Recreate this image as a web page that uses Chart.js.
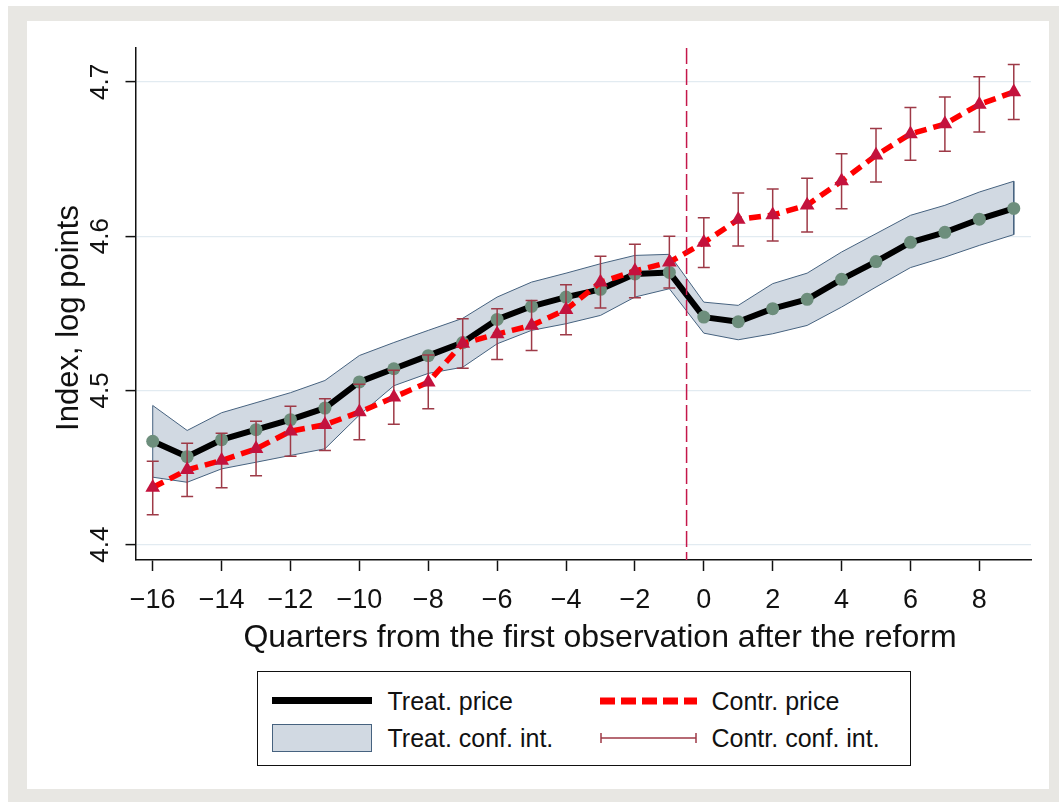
<!DOCTYPE html>
<html>
<head>
<meta charset="utf-8">
<script src="https://cdn.jsdelivr.net/npm/chart.js@4.4.1/dist/chart.umd.min.js"></script>
<style>
  html, body { margin: 0; padding: 0; background: #fff; width: 1059px; height: 802px; overflow: hidden;
               font-family: 'Liberation Sans', Arial, Helvetica, sans-serif; }
  #frame { position: absolute; left: 8px; top: 6px; width: 1051px; height: 796px; background: #e8e7e3; }
  #panel { position: absolute; left: 27px; top: 21px; width: 1022px; height: 768px; background: #fff; }
  #plot { position: absolute; left: 0; top: 0; }
  #legend { position: absolute; left: 230px; top: 650px; width: 654px; height: 95px;
            border: 1.5px solid #111; box-sizing: border-box; }
  #legend .sym { position: absolute; }
  #legend .txt { position: absolute; font-size: 25px; line-height: 30px; color: #111; white-space: nowrap; }
</style>
</head>
<body>
<div id="frame"></div>
<div id="panel">
  <canvas id="plot" width="1022" height="640"></canvas>
  <div id="legend">
    <div class="sym" style="left:13.5px; top:25px; width:100px; height:7px; background:#000;"></div>
    <span class="txt" style="left:129.5px; top:13.5px;">Treat. price</span>
    <div class="sym" style="left:13.5px; top:51.5px; width:100px; height:28px; background:#d1d9e2; border:1.5px solid #46627f; box-sizing:border-box;"></div>
    <span class="txt" style="left:129.5px; top:50.5px;">Treat. conf. int.</span>
    <svg class="sym" style="left:341.5px; top:18.5px;" width="100" height="20">
      <line x1="0" y1="10" x2="97" y2="10" stroke="#ff0000" stroke-width="7" stroke-dasharray="15 6"/>
    </svg>
    <span class="txt" style="left:453.5px; top:13.5px;">Contr. price</span>
    <svg class="sym" style="left:341.5px; top:55.5px;" width="100" height="20">
      <path d="M1 10 H96 M1 5 V15 M96 5 V15" stroke="#9e3a47" stroke-width="1.5" fill="none"/>
    </svg>
    <span class="txt" style="left:453.5px; top:50.5px;">Contr. conf. int.</span>
  </div>
</div>
<script>
// Quarters relative to the first observation after the reform
const quarters = [-16, -15, -14, -13, -12, -11, -10, -9, -8, -7, -6, -5, -4, -3, -2, -1,
                  0, 1, 2, 3, 4, 5, 6, 7, 8, 9];

// Treated group: price index and confidence band (log points)
const treatPrice = [4.467, 4.457, 4.468, 4.4745, 4.481, 4.4885, 4.5055, 4.514, 4.5225, 4.531,
                    4.546, 4.5545, 4.5605, 4.5655, 4.5755, 4.5765,
                    4.5475, 4.5445, 4.553, 4.559, 4.572, 4.5835, 4.596, 4.6025, 4.611, 4.618];
const treatLow   = [4.4437, 4.4404, 4.4491, 4.4534, 4.4578, 4.4621, 4.484, 4.503, 4.511, 4.515,
                    4.5302, 4.5389, 4.5432, 4.5486, 4.5605, 4.5659,
                    4.5371, 4.5328, 4.5367, 4.5421, 4.554, 4.567, 4.5796, 4.5864, 4.594, 4.601];
const treatHigh  = [4.4902, 4.474, 4.4855, 4.492, 4.4985, 4.5064, 4.5226, 4.531, 4.5389, 4.5467,
                    4.5605, 4.5702, 4.576, 4.5821, 4.5875, 4.5882,
                    4.5572, 4.5551, 4.5692, 4.576, 4.5897, 4.6016, 4.6135, 4.62, 4.6286, 4.6356];

// Control group: price index and confidence interval (log points)
const ctrlPrice = [4.437, 4.4485, 4.4545, 4.4621, 4.4735, 4.4777, 4.4859, 4.4955, 4.5053, 4.5304,
                   4.5365, 4.5421, 4.5523, 4.5701, 4.5774, 4.5831,
                   4.5958, 4.6108, 4.6137, 4.6201, 4.6357, 4.6524, 4.6663, 4.6727, 4.6854, 4.6935];
const ctrlLow   = [4.4193, 4.4311, 4.4368, 4.4446, 4.4573, 4.461, 4.4679, 4.478, 4.488, 4.5144,
                   4.52, 4.5259, 4.5361, 4.5534, 4.5601, 4.5663,
                   4.5796, 4.5936, 4.5968, 4.6027, 4.6178, 4.6351, 4.6492, 4.655, 4.6676, 4.6756];
const ctrlHigh  = [4.454, 4.4657, 4.4722, 4.48, 4.4897, 4.4945, 4.504, 4.513, 4.523, 4.5465,
                   4.553, 4.5583, 4.5685, 4.5869, 4.5947, 4.5999,
                   4.612, 4.628, 4.6306, 4.6375, 4.6535, 4.6698, 4.6834, 4.6903, 4.7033, 4.7113];

// Axis ticks and the reform marker
const xTickValues = [-16, -14, -12, -10, -8, -6, -4, -2, 0, 2, 4, 6, 8];
const yTickValues = [4.4, 4.5, 4.6, 4.7];
const reformAt = -0.5;

const xTitle = 'Quarters from the first observation after the reform';
const yTitle = 'Index, log points';

const FONT = "'Liberation Sans', Arial, Helvetica, sans-serif";
Chart.defaults.font.family = FONT;

// Closed outline of the treated confidence band: upper edge forward, lower edge back
const bandOutline = quarters.map((q, i) => ({ x: q, y: treatHigh[i] }))
  .concat(quarters.slice().reverse().map((q, k) => {
    const i = quarters.length - 1 - k;
    return { x: q, y: treatLow[i] };
  }));
bandOutline.push({ x: quarters[0], y: treatHigh[0] });

const fmtTick = v => (v < 0 ? '\u2212' + Math.abs(v) : String(v));

const decor = {
  id: 'decor',
  beforeDatasetDraw(chart, args) {
    if (args.index !== 2) return;
    // Control-group confidence intervals (capped spikes)
    const { ctx, scales: { x, y } } = chart;
    ctx.save();
    ctx.strokeStyle = '#9e3a47';
    ctx.lineWidth = 1.5;
    quarters.forEach((q, i) => {
      const px = x.getPixelForValue(q);
      const top = y.getPixelForValue(ctrlHigh[i]);
      const bot = y.getPixelForValue(ctrlLow[i]);
      ctx.beginPath();
      ctx.moveTo(px, top); ctx.lineTo(px, bot);
      ctx.moveTo(px - 6, top); ctx.lineTo(px + 6, top);
      ctx.moveTo(px - 6, bot); ctx.lineTo(px + 6, bot);
      ctx.stroke();
    });
    ctx.restore();
  },
  afterDatasetsDraw(chart) {
    // Vertical dashed line at the reform date
    const { ctx, chartArea, scales: { x } } = chart;
    const px = x.getPixelForValue(reformAt);
    ctx.save();
    ctx.strokeStyle = '#c4174a';
    ctx.lineWidth = 1.5;
    ctx.setLineDash([16, 5]);
    ctx.beginPath();
    ctx.moveTo(px, chartArea.top);
    ctx.lineTo(px, chartArea.bottom);
    ctx.stroke();
    ctx.restore();
  },
  afterDraw(chart) {
    const { ctx, chartArea, scales: { y } } = chart;
    ctx.save();
    ctx.fillStyle = '#111';
    // Vertical tick labels on the y axis
    ctx.font = '26px ' + FONT;
    ctx.textAlign = 'center';
    ctx.textBaseline = 'alphabetic';
    yTickValues.forEach(v => {
      ctx.save();
      ctx.translate(chartArea.left - 28, y.getPixelForValue(v));
      ctx.rotate(-Math.PI / 2);
      ctx.fillText(v.toFixed(1), 0, 0);
      ctx.restore();
    });
    // Axis titles
    ctx.font = '31px ' + FONT;
    ctx.save();
    ctx.translate(51, 297);
    ctx.rotate(-Math.PI / 2);
    ctx.fillText(yTitle, 0, 0);
    ctx.restore();
    ctx.font = '32px ' + FONT;
    ctx.fillText(xTitle, 573, 626);
    ctx.restore();
  }
};

new Chart(document.getElementById('plot'), {
  type: 'line',
  data: {
    datasets: [
      {
        label: 'Treat. conf. int.',
        data: bandOutline,
        order: 3,
        borderColor: '#46627f',
        borderWidth: 1,
        backgroundColor: '#d1d9e2',
        fill: 'shape',
        pointRadius: 0,
        tension: 0
      },
      {
        label: 'Treat. price',
        data: quarters.map((q, i) => ({ x: q, y: treatPrice[i] })),
        order: 2,
        borderColor: '#000',
        borderWidth: 6,
        fill: false,
        pointRadius: 6.5,
        pointBackgroundColor: '#6d8e7c',
        pointBorderWidth: 0,
        tension: 0
      },
      {
        label: 'Contr. price',
        data: quarters.map((q, i) => ({ x: q, y: ctrlPrice[i] })),
        order: 1,
        borderColor: '#ff0000',
        borderWidth: 5.5,
        borderDash: [12, 7],
        fill: false,
        pointStyle: 'triangle',
        pointRadius: 8.5,
        pointBackgroundColor: '#c4123d',
        pointBorderWidth: 0,
        tension: 0
      }
    ]
  },
  options: {
    responsive: false,
    animation: false,
    devicePixelRatio: 1,
    parsing: true,
    layout: { padding: { left: 0, right: 18, top: 27, bottom: 0 } },
    plugins: { legend: { display: false }, tooltip: { enabled: false } },
    elements: { line: { borderCapStyle: 'butt', borderJoinStyle: 'round' } },
    scales: {
      x: {
        type: 'linear',
        min: -16.5,
        max: 9.5,
        afterBuildTicks: s => { s.ticks = xTickValues.map(v => ({ value: v })); },
        afterFit: s => { s.height = 101; },
        ticks: {
          autoSkip: false, maxRotation: 0, minRotation: 0,
          padding: 13, color: '#111', font: { size: 27 },
          callback: v => fmtTick(v)
        },
        grid: { drawOnChartArea: false, drawTicks: true, tickLength: 11, tickColor: '#111', tickWidth: 1.5 },
        border: { display: true, color: '#111', width: 1.5 }
      },
      y: {
        type: 'linear',
        min: 4.39,
        max: 4.722,
        afterBuildTicks: s => { s.ticks = yTickValues.map(v => ({ value: v })); },
        afterFit: s => { s.width = 108.5; },
        ticks: { display: false },
        grid: { color: '#e2ebf1', lineWidth: 1.2, drawTicks: true, tickLength: 10, tickColor: '#111', tickWidth: 1.5 },
        border: { display: true, color: '#111', width: 1.5 }
      }
    }
  },
  plugins: [decor]
});
</script>
</body>
</html>
